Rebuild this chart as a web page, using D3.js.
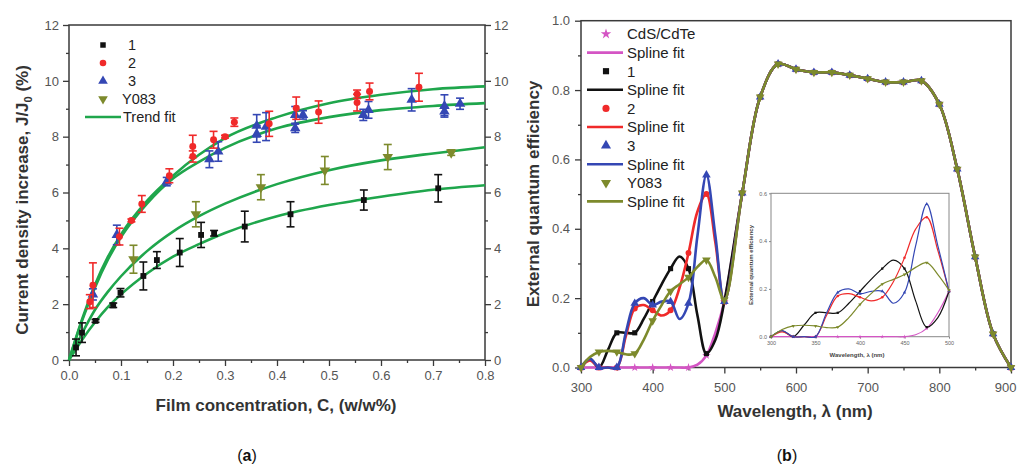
<!DOCTYPE html>
<html>
<head>
<meta charset="utf-8">
<script src="https://cdn.jsdelivr.net/npm/d3@7"></script>
<style>
  body { margin: 0; background: #fff; }
  text { font-family: Arial, "Liberation Sans", sans-serif; }
</style>
</head>
<body>
<svg id="chart" width="1019" height="469"></svg>
<script>
// ---------- panel (a): current density increase vs film concentration ----------
const conc1 = [0.0135, 0.025, 0.051, 0.085, 0.099, 0.143, 0.169, 0.213, 0.254, 0.279, 0.338, 0.426, 0.567, 0.71];
const val1  = [0.45, 0.98, 1.4, 1.96, 2.41, 3.01, 3.58, 3.85, 4.48, 4.54, 4.78, 5.22, 5.73, 6.15];
const err1  = [0.3, 0.35, 0.05, 0.08, 0.15, 0.5, 0.3, 0.5, 0.45, 0.1, 0.55, 0.45, 0.36, 0.49];

const conc2 = [0.040, 0.046, 0.097, 0.12, 0.14, 0.193, 0.238, 0.238, 0.278, 0.30, 0.318, 0.385, 0.437, 0.48, 0.554, 0.554, 0.578, 0.673];
const val2  = [2.09, 2.68, 4.42, 5.0, 5.59, 6.6, 7.29, 7.65, 7.89, 8.0, 8.52, 8.46, 9.02, 8.88, 9.52, 9.22, 9.62, 9.77];
const err2  = [0.25, 0.8, 0.3, 0.05, 0.3, 0.25, 0.2, 0.4, 0.3, 0.05, 0.15, 0.45, 0.4, 0.4, 0.15, 0.3, 0.3, 0.5];

const conc3 = [0.046, 0.092, 0.188, 0.27, 0.287, 0.361, 0.361, 0.379, 0.435, 0.435, 0.45, 0.566, 0.576, 0.659, 0.722, 0.722, 0.752];
const val3  = [2.35, 4.48, 6.39, 7.19, 7.47, 8.1, 8.39, 8.36, 8.3, 8.78, 8.78, 8.78, 8.96, 9.32, 8.9, 9.1, 9.18];
const err3  = [0.2, 0.35, 0.15, 0.3, 0.35, 0.3, 0.4, 0.5, 0.15, 0.3, 0.15, 0.2, 0.3, 0.4, 0.15, 0.4, 0.2];

const concY = [0.124, 0.244, 0.369, 0.492, 0.613, 0.735];
const valY  = [3.61, 5.22, 6.19, 6.79, 7.27, 7.43];
const errY  = [0.5, 0.45, 0.45, 0.5, 0.45, 0.1];

// trend fit curves
const fitConc = [0, 0.025, 0.05, 0.075, 0.1, 0.15, 0.2, 0.25, 0.3, 0.4, 0.5, 0.6, 0.7, 0.8];
const fitTop  = [0, 1.45, 2.7, 3.7, 4.5, 5.7, 6.6, 7.35, 7.95, 8.7, 9.2, 9.5, 9.7, 9.8];
const fitSec  = [0, 1.4, 2.6, 3.6, 4.4, 5.6, 6.5, 7.1, 7.6, 8.3, 8.7, 8.95, 9.1, 9.2];
const fitY083 = [0, 0.95, 1.8, 2.45, 3.0, 3.9, 4.6, 5.15, 5.6, 6.3, 6.8, 7.15, 7.4, 7.62];
const fitOne  = [0, 0.72, 1.35, 1.9, 2.35, 3.1, 3.7, 4.15, 4.55, 5.15, 5.55, 5.85, 6.1, 6.26];

// ---------- panel (b): external quantum efficiency vs wavelength ----------
const lamHead = [300, 312.5, 325, 337.5, 350, 362.5, 375, 387.5, 400, 412.5, 425, 437.5, 450, 462.5, 475, 487.5, 500];
const eqeCds  = [0, 0, 0, 0, 0, 0, 0, 0, 0, 0, 0, 0, 0, 0.008, 0.035, 0.1, 0.19];
const eqe1    = [0, 0.025, 0, 0.05, 0.1, 0.1, 0.1, 0.14, 0.19, 0.24, 0.285, 0.32, 0.285, 0.15, 0.04, 0.08, 0.19];
const eqe2    = [0, 0.02, 0, 0, 0, 0.09, 0.17, 0.18, 0.165, 0.15, 0.165, 0.23, 0.33, 0.45, 0.5, 0.36, 0.19];
const eqe3    = [0, 0.025, 0, 0, 0, 0.1, 0.185, 0.2, 0.18, 0.19, 0.19, 0.14, 0.185, 0.38, 0.555, 0.38, 0.19];
const eqeY083 = [0, 0.03, 0.045, 0.048, 0.045, 0.038, 0.04, 0.08, 0.135, 0.18, 0.22, 0.24, 0.26, 0.29, 0.31, 0.26, 0.195];
// above 500 nm all samples coincide
const lamTail = [525, 550, 575, 600, 625, 650, 675, 700, 725, 750, 775, 800, 825, 850, 875, 900];
const eqeTail = [0.503, 0.78, 0.875, 0.86, 0.851, 0.851, 0.843, 0.833, 0.823, 0.823, 0.827, 0.759, 0.572, 0.319, 0.097, 0];

const legendA = ["1", "2", "3", "Y083", "Trend fit"];
const legendB = ["CdS/CdTe", "Spline fit", "1", "Spline fit", "2", "Spline fit", "3", "Spline fit", "Y083", "Spline fit"];

const green = "#1fa64c";
const colBlack = "#111", colRed = "#f02a2a", colBlue = "#3447b4", colOlive = "#7d8a2c", colPink = "#d455c4";
const frameCol = "#3a3a3a", tickText = "#555";

const svg = d3.select("#chart");

function zip(xs, ys, es) {
  return xs.map((x, i) => ({ x: x, y: ys[i], e: es ? es[i] : 0 }));
}

function sym(type, size) {
  return d3.symbol().type(type).size(size)();
}

// ---------------- panel (a) ----------------
const xa = d3.scaleLinear().domain([0, 0.8]).range([69, 485]);
const ya = d3.scaleLinear().domain([0, 12]).range([360, 25]);

function styleAxis(g) {
  g.select(".domain").remove();
  g.selectAll(".tick line").attr("stroke", frameCol).attr("stroke-width", 1.3);
  g.selectAll(".tick text").attr("fill", tickText).attr("font-size", 13);
}

const pa = svg.append("g");

// minor ticks
pa.append("g").attr("transform", "translate(69,0)")
  .call(d3.axisLeft(ya).tickValues(d3.range(1, 12, 2)).tickSize(3).tickFormat(""))
  .call(styleAxis);
pa.append("g").attr("transform", "translate(485,0)")
  .call(d3.axisRight(ya).tickValues(d3.range(1, 12, 2)).tickSize(3).tickFormat(""))
  .call(styleAxis);
pa.append("g").attr("transform", "translate(0,360)")
  .call(d3.axisBottom(xa).tickValues(d3.range(0.05, 0.8, 0.1)).tickSize(3).tickFormat(""))
  .call(styleAxis);
// major ticks
pa.append("g").attr("transform", "translate(69,0)")
  .call(d3.axisLeft(ya).tickValues(d3.range(0, 13, 2)).tickSize(6).tickPadding(4))
  .call(styleAxis);
pa.append("g").attr("transform", "translate(485,0)")
  .call(d3.axisRight(ya).tickValues(d3.range(0, 13, 2)).tickSize(6).tickPadding(3))
  .call(styleAxis);
pa.append("g").attr("transform", "translate(0,360)")
  .call(d3.axisBottom(xa).tickValues(d3.range(0, 0.81, 0.1)).tickSize(6).tickPadding(5).tickFormat(d3.format(".1f")))
  .call(styleAxis);

pa.append("rect").attr("x", 69).attr("y", 25).attr("width", 416).attr("height", 335)
  .attr("fill", "none").attr("stroke", frameCol).attr("stroke-width", 1.5);

// fits
const fitLine = d3.line().x(d => xa(d.x)).y(d => ya(d.y)).curve(d3.curveMonotoneX);
[fitTop, fitSec, fitY083, fitOne].forEach(f => {
  pa.append("path").datum(zip(fitConc, f)).attr("d", fitLine)
    .attr("fill", "none").attr("stroke", green).attr("stroke-width", 2.6);
});

const seriesA = [
  { pts: zip(conc1, val1, err1), color: colBlack, shape: d3.symbolSquare, size: 34, rot: 0 },
  { pts: zip(concY, valY, errY), color: colOlive, shape: d3.symbolTriangle, size: 48, rot: 180 },
  { pts: zip(conc3, val3, err3), color: colBlue, shape: d3.symbolTriangle, size: 48, rot: 0 },
  { pts: zip(conc2, val2, err2), color: colRed, shape: d3.symbolCircle, size: 38, rot: 0 }
];

seriesA.forEach(s => {
  const g = pa.append("g");
  const eb = g.selectAll("g.eb").data(s.pts).join("g").attr("stroke", s.color).attr("stroke-width", 1.6);
  eb.append("line").attr("x1", d => xa(d.x)).attr("x2", d => xa(d.x))
    .attr("y1", d => ya(d.y - d.e)).attr("y2", d => ya(d.y + d.e));
  eb.append("line").attr("x1", d => xa(d.x) - 4).attr("x2", d => xa(d.x) + 4)
    .attr("y1", d => ya(d.y - d.e)).attr("y2", d => ya(d.y - d.e));
  eb.append("line").attr("x1", d => xa(d.x) - 4).attr("x2", d => xa(d.x) + 4)
    .attr("y1", d => ya(d.y + d.e)).attr("y2", d => ya(d.y + d.e));
  g.selectAll("path.m").data(s.pts).join("path").attr("class", "m")
    .attr("d", sym(s.shape, s.size))
    .attr("transform", d => `translate(${xa(d.x)},${ya(d.y)}) rotate(${s.rot})`)
    .attr("fill", s.color);
});

// legend (a)
const legA = pa.append("g");
const legAStyle = [
  { color: colBlack, shape: d3.symbolSquare, size: 30, rot: 0 },
  { color: colRed, shape: d3.symbolCircle, size: 34, rot: 0 },
  { color: colBlue, shape: d3.symbolTriangle, size: 40, rot: 0 },
  { color: colOlive, shape: d3.symbolTriangle, size: 40, rot: 180 }
];
legendA.forEach((t, i) => {
  const yy = 45 + i * 18;
  if (i < 4) {
    const st = legAStyle[i];
    legA.append("path").attr("d", sym(st.shape, st.size))
      .attr("transform", `translate(103,${yy}) rotate(${st.rot})`).attr("fill", st.color);
    legA.append("text").attr("x", i < 3 ? 128 : 122).attr("y", yy).attr("dy", "0.36em")
      .attr("font-size", 14.5).attr("fill", "#222").text(t);
  } else {
    legA.append("line").attr("x1", 85).attr("x2", 121).attr("y1", yy).attr("y2", yy)
      .attr("stroke", green).attr("stroke-width", 2.6);
    legA.append("text").attr("x", 123).attr("y", yy).attr("dy", "0.36em")
      .attr("font-size", 14.5).attr("fill", "#222").text(t);
  }
});

// axis titles (a)
const yTitleA = pa.append("text").attr("transform", "translate(28,200) rotate(-90)")
  .attr("text-anchor", "middle").attr("font-size", 17).attr("font-weight", "bold").attr("fill", "#333");
yTitleA.append("tspan").text("Current density increase, J/J");
yTitleA.append("tspan").attr("font-size", 11).attr("dy", 4).text("0");
yTitleA.append("tspan").attr("dy", -4).text(" (%)");
pa.append("text").attr("x", 276).attr("y", 411).attr("text-anchor", "middle")
  .attr("font-size", 17).attr("font-weight", "bold").attr("fill", "#333")
  .text("Film concentration, C, (w/w%)");

// ---------------- panel (b) ----------------
const xb = d3.scaleLinear().domain([300, 900]).range([581, 1011]);
const yb = d3.scaleLinear().domain([0, 1]).range([367.5, 20.7]);
const pb = svg.append("g");

pb.append("g").attr("transform", "translate(581,0)")
  .call(d3.axisLeft(yb).tickValues(d3.range(0.1, 1, 0.2)).tickSize(3).tickFormat(""))
  .call(styleAxis);
pb.append("g").attr("transform", "translate(0,367.5)")
  .call(d3.axisBottom(xb).tickValues(d3.range(350, 900, 100)).tickSize(3).tickFormat(""))
  .call(styleAxis);
pb.append("g").attr("transform", "translate(581,0)")
  .call(d3.axisLeft(yb).tickValues(d3.range(0, 1.01, 0.2)).tickSize(6).tickPadding(5).tickFormat(d3.format(".1f")))
  .call(styleAxis);
const xAxisB = pb.append("g").attr("transform", "translate(0,367.5)")
  .call(d3.axisBottom(xb).tickValues(d3.range(300, 901, 100)).tickSize(6).tickPadding(9))
  .call(styleAxis);
// keep the last label inside the page edge
xAxisB.selectAll(".tick text").filter(d => d === 900).attr("text-anchor", "end").attr("dx", 5);

pb.append("rect").attr("x", 581).attr("y", 20.7).attr("width", 430).attr("height", 346.8)
  .attr("fill", "none").attr("stroke", frameCol).attr("stroke-width", 1.5);

const seriesB = [
  { name: "CdS/CdTe", head: eqeCds, color: colPink, shape: d3.symbolStar, size: 22, rot: 0 },
  { name: "1", head: eqe1, color: colBlack, shape: d3.symbolSquare, size: 26, rot: 0 },
  { name: "2", head: eqe2, color: colRed, shape: d3.symbolCircle, size: 28, rot: 0 },
  { name: "3", head: eqe3, color: colBlue, shape: d3.symbolTriangle, size: 32, rot: 0 },
  { name: "Y083", head: eqeY083, color: colOlive, shape: d3.symbolTriangle, size: 32, rot: 180 }
];
seriesB.forEach(s => {
  s.pts = zip(lamHead.concat(lamTail), s.head.concat(eqeTail));
});

const splineB = d3.line().x(d => xb(d.x)).y(d => yb(d.y)).curve(d3.curveCatmullRom.alpha(0.5));
seriesB.forEach(s => {
  pb.append("path").datum(s.pts).attr("d", splineB)
    .attr("fill", "none").attr("stroke", s.color).attr("stroke-width", 2.6);
  pb.selectAll(null).data(s.pts.filter(d => d.x % 25 === 0)).join("path")
    .attr("d", sym(s.shape, s.size))
    .attr("transform", d => `translate(${xb(d.x)},${yb(d.y)}) rotate(${s.rot})`)
    .attr("fill", s.color);
});

// legend (b)
const legB = pb.append("g");
legendB.forEach((t, i) => {
  const yy = 34 + i * 18.6;
  const s = seriesB[Math.floor(i / 2)];
  if (i % 2 === 0) {
    legB.append("path").attr("d", sym(s.shape, s.size + 12))
      .attr("transform", `translate(606,${yy}) rotate(${s.rot})`).attr("fill", s.color);
  } else {
    legB.append("line").attr("x1", 587).attr("x2", 623).attr("y1", yy).attr("y2", yy)
      .attr("stroke", s.color).attr("stroke-width", 2.6);
  }
  legB.append("text").attr("x", 627).attr("y", yy).attr("dy", "0.36em")
    .attr("font-size", 15).attr("fill", "#222").text(t);
});

pb.append("text").attr("transform", "translate(539,194) rotate(-90)")
  .attr("text-anchor", "middle").attr("font-size", 17).attr("font-weight", "bold").attr("fill", "#333")
  .text("External quantum efficiency");
pb.append("text").attr("x", 795).attr("y", 417).attr("text-anchor", "middle")
  .attr("font-size", 17).attr("font-weight", "bold").attr("fill", "#333")
  .text("Wavelength, λ (nm)");

// inset
const xi = d3.scaleLinear().domain([300, 500]).range([771, 949]);
const yi = d3.scaleLinear().domain([0, 0.6]).range([336.7, 193.3]);
const pi = svg.append("g");
pi.append("rect").attr("x", 771).attr("y", 193.3).attr("width", 178).attr("height", 143.4)
  .attr("fill", "#fff").attr("stroke", "#888").attr("stroke-width", 1);

function styleInset(g) {
  g.select(".domain").remove();
  g.selectAll(".tick line").attr("stroke", "#888");
  g.selectAll(".tick text").attr("fill", "#666").attr("font-size", 5.5);
}
pi.append("g").attr("transform", "translate(771,0)")
  .call(d3.axisLeft(yi).tickValues([0, 0.2, 0.4, 0.6]).tickSize(2).tickPadding(2).tickFormat(d3.format(".1f")))
  .call(styleInset);
pi.append("g").attr("transform", "translate(0,336.7)")
  .call(d3.axisBottom(xi).tickValues(d3.range(300, 501, 50)).tickSize(2).tickPadding(2))
  .call(styleInset);

const splineI = d3.line().x(d => xi(d.x)).y(d => yi(d.y)).curve(d3.curveCatmullRom.alpha(0.5));
seriesB.forEach(s => {
  const pts = s.pts.filter(d => d.x <= 500);
  pi.append("path").datum(pts).attr("d", splineI)
    .attr("fill", "none").attr("stroke", s.color).attr("stroke-width", 1.2);
  pi.selectAll(null).data(pts.filter(d => d.x % 25 === 0)).join("path")
    .attr("d", sym(s.shape, 5))
    .attr("transform", d => `translate(${xi(d.x)},${yi(d.y)}) rotate(${s.rot})`)
    .attr("fill", s.color);
});
pi.append("text").attr("transform", "translate(753,265) rotate(-90)")
  .attr("text-anchor", "middle").attr("font-size", 6).attr("font-weight", "bold").attr("fill", "#444")
  .text("External quantum efficiency");
pi.append("text").attr("x", 857).attr("y", 357).attr("text-anchor", "middle")
  .attr("font-size", 6).attr("font-weight", "bold").attr("fill", "#444")
  .text("Wavelength, λ (nm)");

// panel captions
svg.append("text").attr("x", 247).attr("y", 461).attr("text-anchor", "middle")
  .attr("font-family", "'DejaVu Serif', 'Liberation Serif', serif").attr("font-size", 16).attr("fill", "#111")
  .html("(<tspan font-weight='bold'>a</tspan>)");
svg.append("text").attr("x", 787).attr("y", 461).attr("text-anchor", "middle")
  .attr("font-family", "'DejaVu Serif', 'Liberation Serif', serif").attr("font-size", 16).attr("fill", "#111")
  .html("(<tspan font-weight='bold'>b</tspan>)");
</script>
</body>
</html>
